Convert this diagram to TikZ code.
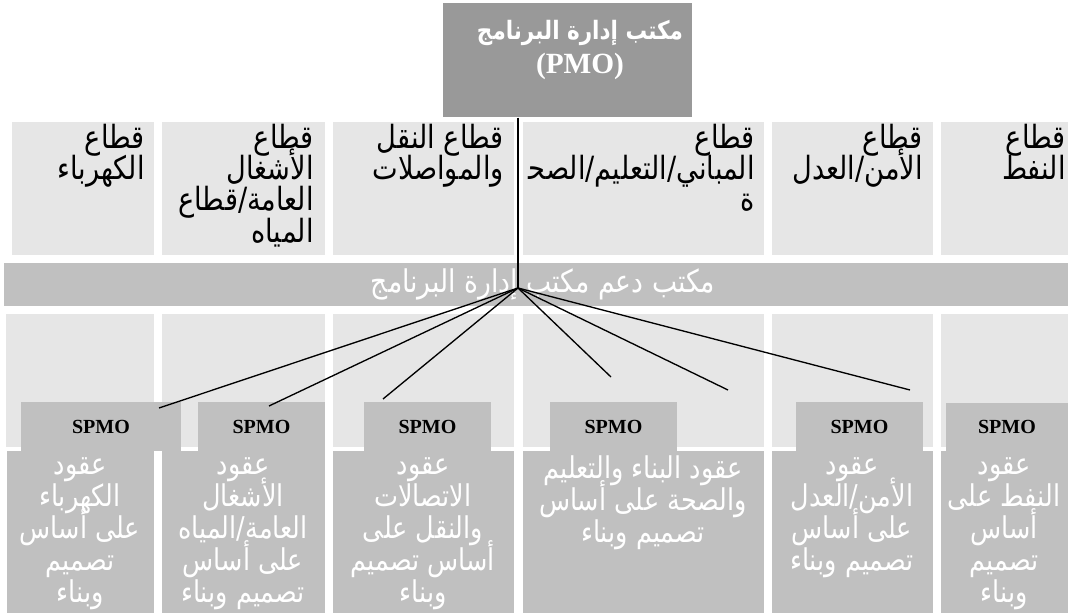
\documentclass[tikz,border=0pt]{standalone}
\usepackage{fontspec}
\setmainfont{Liberation Serif}
\newfontfamily\arabicfont[Script=Arabic,FakeStretch=0.85]{DejaVu Sans}
\TeXXeTstate=1
\newcommand\tightlines{\lineskiplimit -50pt\relax}
\definecolor{pmo_gray}{RGB}{153,153,153}
\definecolor{sector_gray}{RGB}{230,230,230}
\definecolor{band_gray}{RGB}{192,192,192}

\begin{document}
\begin{tikzpicture}[x=0.75pt, y=-0.75pt, inner sep=0pt,
    sectortxt/.style={anchor=north east, align=right, font={\arabicfont\fontsize{24}{23.4}\selectfont\tightlines}},
    contracttxt/.style={anchor=north, align=center, text=white, font={\arabicfont\fontsize{22.5}{24}\selectfont\tightlines}},
    spmotxt/.style={font=\bfseries\fontsize{15}{18}\selectfont},
    fan/.style={black, line width=1pt}]
        \useasboundingbox (0,0) rectangle (1068,613);
        % sector columns, upper and lower light cells
        \foreach \xa/\xb/\xc in {12/154/6, 162/325/162, 333/514/333, 523/764/523, 772/933/772, 941/1068/941}{
          \fill[sector_gray] (\xa,122) rectangle (\xb,255);
          \fill[sector_gray] (\xc,314) rectangle (\xb,447);
        }
        \node[sectortxt] (s1) at (145,124) {\beginR قطاع\endR\\\beginR الكهرباء\endR};
        \node[sectortxt] (s2) at (314,124) {\beginR قطاع\endR\\\beginR الأشغال\endR\\\beginR العامة/قطاع\endR\\\beginR المياه\endR};
        \node[sectortxt] (s3) at (504,124) {\beginR قطاع النقل\endR\\\beginR والمواصلات\endR};
        \node[sectortxt] (s4) at (755,124) {\beginR قطاع\endR\\\beginR المباني/التعليم/الصح‍\endR\\\beginR ة\endR};
        \node[sectortxt] (s5) at (923,124) {\beginR قطاع\endR\\\beginR الأمن/العدل\endR};
        \node[sectortxt] (s6) at (1066,124) {\beginR قطاع\endR\\\beginR النفط\endR};
        % support band
        \fill[band_gray] (4,263) rectangle (1068,306);
        \node[text=white, font=\arabicfont\fontsize{23.5}{24}\selectfont] (band) at (543,284)
          {\beginR مكتب دعم مكتب إدارة البرنامج\endR};
        % SPMO boxes
        \foreach \k/\xa/\xb/\ya in {1/21/181/402, 2/198/325/402, 3/364/491/402, 4/550/677/402, 5/796/923/402, 6/946/1068/403}{
          \fill[band_gray] (\xa,\ya) rectangle (\xb,451);
          \node[spmotxt] (spmo\k) at ({(\xa+\xb)/2},427) {SPMO};
        }
        % PMO
        \node[fill=pmo_gray, anchor=north west, minimum width={249*0.75pt}, minimum height={114*0.75pt}] (pmo) at (443,3) {};
        \node[align=center, text=white, font=\bfseries\fontsize{22}{26}\selectfont] (pmotxt) at (580,50)
          {{\arabicfont\fontsize{19}{26}\selectfont\beginR مكتب إدارة البرنامج\endR}\\(PMO)};
        \coordinate (apex) at (518,288);
        \draw[fan] (pmo.south -| apex) -- (apex);
        \foreach \k/\ex/\ey in {1/159/408, 2/269/406, 3/383/399, 4/611/377, 5/728/390, 6/910/390}{
          \coordinate (e\k) at (\ex,\ey);
          \draw[fan] (apex) -- (e\k);
        }
        % contract cells
        \foreach \xa/\xb in {7/154, 162/325, 333/514, 523/764, 772/933, 941/1068}
          \fill[band_gray] (\xa,451) rectangle (\xb,613);
        \node[contracttxt] (c1) at (80,457) {\beginR عقود\endR\\\beginR الكهرباء\endR\\\beginR على أساس\endR\\\beginR تصميم\endR\\\beginR وبناء\endR};
        \node[contracttxt] (c2) at (243,457) {\beginR عقود\endR\\\beginR الأشغال\endR\\\beginR العامة/المياه\endR\\\beginR على أساس\endR\\\beginR تصميم وبناء\endR};
        \node[contracttxt] (c3) at (423,457) {\beginR عقود\endR\\\beginR الاتصالات\endR\\\beginR والنقل على\endR\\\beginR أساس تصميم\endR\\\beginR وبناء\endR};
        \node[contracttxt] (c4) at (643,455) {\beginR عقود البناء والتعليم\endR\\\beginR والصحة على أساس\endR\\\beginR تصميم وبناء\endR};
        \node[contracttxt] (c5) at (852,457) {\beginR عقود\endR\\\beginR الأمن/العدل\endR\\\beginR على أساس\endR\\\beginR تصميم وبناء\endR};
        \node[contracttxt] (c6) at (1004,457) {\beginR عقود\endR\\\beginR النفط على\endR\\\beginR أساس\endR\\\beginR تصميم\endR\\\beginR وبناء\endR};
      \end{tikzpicture}
\end{document}
